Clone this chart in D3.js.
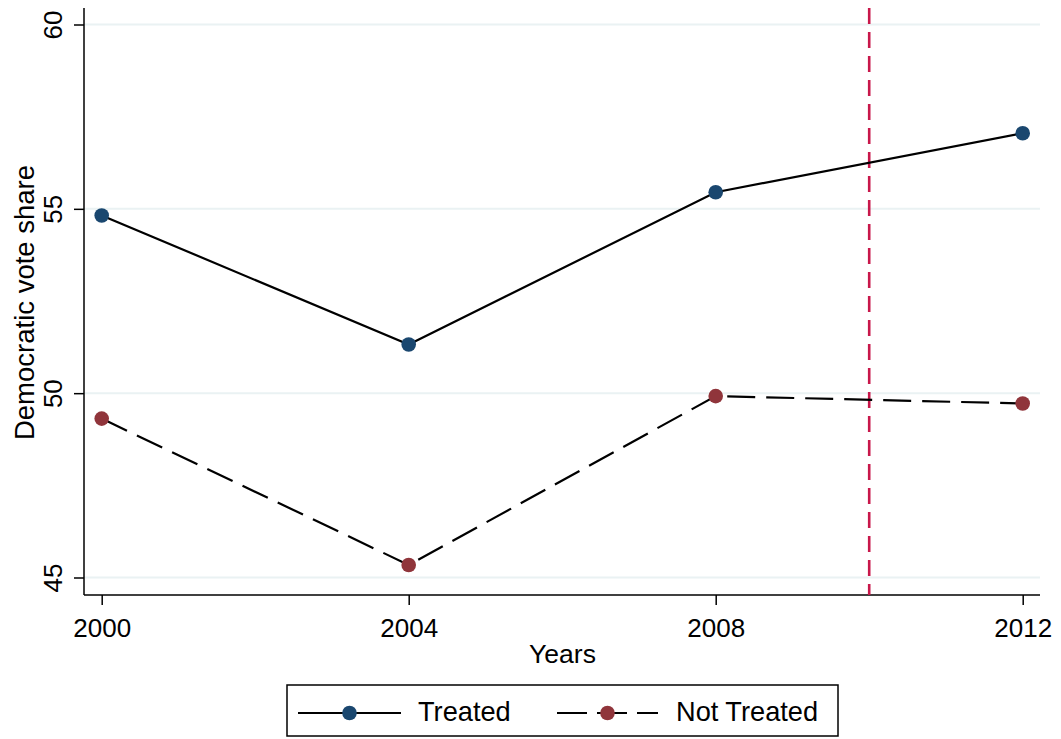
<!DOCTYPE html>
<html>
<head>
<meta charset="utf-8">
<script src="https://cdn.jsdelivr.net/npm/d3@7"></script>
<style>
  html, body { margin: 0; padding: 0; background: #ffffff; }
  svg { display: block; font-family: "Liberation Sans", Helvetica, Arial, sans-serif; }
</style>
</head>
<body>
<svg id="chart" width="1061" height="739"></svg>
<script>
// Election years and mean Democratic vote share per group
const years = [2000, 2004, 2008, 2012];
const treated = [54.82, 51.32, 55.45, 57.05];
const notTreated = [49.31, 45.34, 49.92, 49.72];
const yTicks = [45, 50, 55, 60];
const treatmentYear = 2010;
const seriesNames = ["Treated", "Not Treated"];

const svg = d3.select("#chart");

const x = d3.scaleLinear().domain([2000, 2012]).range([101.7, 1022.7]);
const y = d3.scaleLinear().domain([45, 60]).range([577.5, 24.5]);

const plotLeft = 84, plotRight = 1040, plotTop = 8, plotBottom = 595;
const FONT = "Liberation Sans, Helvetica, Arial, sans-serif";

// Horizontal grid lines
svg.append("g").selectAll("line").data(yTicks).join("line")
  .attr("x1", plotLeft).attr("x2", plotRight)
  .attr("y1", d => y(d)).attr("y2", d => y(d))
  .attr("stroke", "#eaf2f3").attr("stroke-width", 2);

// Y axis
const yAxis = svg.append("g")
  .attr("transform", `translate(${plotLeft},0)`)
  .call(d3.axisLeft(y).tickValues(yTicks).tickSize(10).tickSizeOuter(0).tickFormat(d3.format("d")));
yAxis.select(".domain").attr("d", `M0,${plotTop}V${plotBottom}`)
  .attr("stroke", "#000").attr("stroke-width", 1.5);
yAxis.selectAll(".tick line").attr("stroke", "#000").attr("stroke-width", 1.5);
yAxis.selectAll(".tick text")
  .attr("transform", "rotate(-90)")
  .attr("x", 0).attr("y", -22)
  .attr("dy", 0)
  .attr("text-anchor", "middle")
  .attr("font-size", 26).attr("fill", "#000")
  .style("font-family", FONT);

// X axis
const xAxis = svg.append("g")
  .attr("transform", `translate(0,${plotBottom})`)
  .call(d3.axisBottom(x).tickValues(years).tickSize(10).tickSizeOuter(0).tickFormat(d3.format("d")));
xAxis.select(".domain").attr("d", `M${plotLeft},0H${plotRight}`)
  .attr("stroke", "#000").attr("stroke-width", 1.5);
xAxis.selectAll(".tick line").attr("stroke", "#000").attr("stroke-width", 1.5);
xAxis.selectAll(".tick text")
  .attr("y", 42).attr("dy", 0)
  .attr("font-size", 26).attr("fill", "#000")
  .style("font-family", FONT);

// Axis titles
svg.append("text")
  .attr("x", 562.5).attr("y", 663)
  .attr("text-anchor", "middle").attr("font-size", 26.5).attr("fill", "#000")
  .text("Years");
svg.append("text")
  .attr("transform", `translate(33.5,302.5) rotate(-90)`)
  .attr("text-anchor", "middle").attr("font-size", 27.5).attr("fill", "#000")
  .text("Democratic vote share");

// Treatment year marker
svg.append("line")
  .attr("x1", x(treatmentYear)).attr("x2", x(treatmentYear))
  .attr("y1", plotTop).attr("y2", plotBottom)
  .attr("stroke", "#c8174a").attr("stroke-width", 2.6)
  .attr("stroke-dasharray", "16,8");

const line = d3.line().x((d, i) => x(years[i])).y(d => y(d));

const series = [
  { name: seriesNames[0], values: treated, color: "#1a476f", dash: null },
  { name: seriesNames[1], values: notTreated, color: "#90353b", dash: "28,11" }
];

series.forEach(s => {
  svg.append("path")
    .datum(s.values)
    .attr("d", line)
    .attr("fill", "none").attr("stroke", "#000").attr("stroke-width", 2.2)
    .attr("stroke-dasharray", s.dash);
  svg.append("g").selectAll("circle").data(s.values).join("circle")
    .attr("cx", (d, i) => x(years[i])).attr("cy", d => y(d))
    .attr("r", 7.3).attr("fill", s.color);
});

// Legend
const lg = svg.append("g");
lg.append("rect")
  .attr("x", 287).attr("y", 685).attr("width", 551).attr("height", 51)
  .attr("fill", "#fff").attr("stroke", "#000").attr("stroke-width", 1.5);
const legendItems = [
  { s: series[0], x0: 298, x1: 401, tx: 418 },
  { s: series[1], x0: 557, x1: 658, tx: 676 }
];
legendItems.forEach(it => {
  lg.append("line")
    .attr("x1", it.x0).attr("x2", it.x1).attr("y1", 713).attr("y2", 713)
    .attr("stroke", "#000").attr("stroke-width", 2.2)
    .attr("stroke-dasharray", it.s.dash ? "30,10" : null);
  lg.append("circle")
    .attr("cx", (it.x0 + it.x1) / 2).attr("cy", 713).attr("r", 7.3)
    .attr("fill", it.s.color);
  lg.append("text")
    .attr("x", it.tx).attr("y", 721)
    .attr("font-size", 27.2).attr("fill", "#000")
    .text(it.s.name);
});
</script>
</body>
</html>
